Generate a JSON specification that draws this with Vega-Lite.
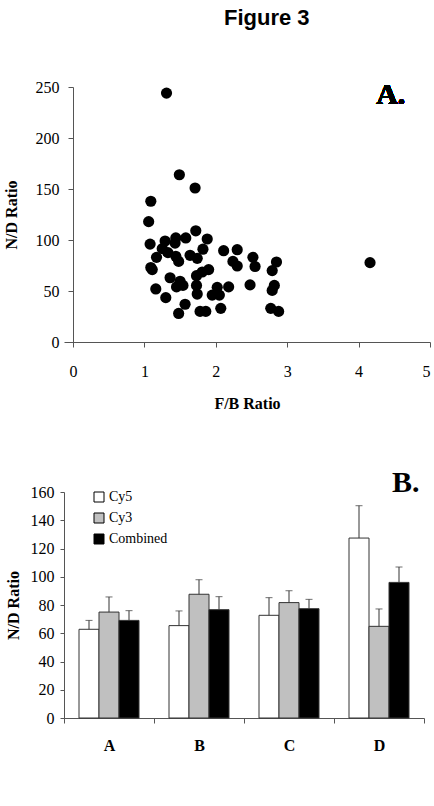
{
  "$schema": "https://vega.github.io/schema/vega-lite/v6.json",
  "padding": {"left": 3, "top": 7, "right": 0, "bottom": 0},
  "title": {"text": "Figure 3", "font": "Liberation Sans", "fontSize": 22, "fontWeight": "bold", "anchor": "middle", "dx": 50, "offset": 49, "color": "black"},
  "config": {
    "view": {"stroke": null},
    "axis": {"grid": false, "domainColor": "#555", "tickColor": "#555", "labelFont": "Liberation Serif", "labelFontSize": 16, "labelColor": "black", "titleFont": "Liberation Serif", "titleFontSize": 16, "titleFontWeight": "bold", "titleColor": "black"}
  },
  "spacing": 57,
  "resolve": {"legend": {"fill": "independent"}, "scale": {"x": "independent", "y": "independent", "fill": "independent"}},
  "vconcat": [
    {
      "width": 366,
      "height": 255,
      "data": {"values": [
        {"fb": 1.31, "nd": 244}, {"fb": 1.49, "nd": 164}, {"fb": 1.71, "nd": 151}, {"fb": 1.09, "nd": 138},
        {"fb": 1.06, "nd": 118}, {"fb": 1.72, "nd": 109}, {"fb": 1.08, "nd": 96}, {"fb": 1.29, "nd": 99},
        {"fb": 1.44, "nd": 102}, {"fb": 1.58, "nd": 102}, {"fb": 1.88, "nd": 101}, {"fb": 1.43, "nd": 97},
        {"fb": 1.25, "nd": 91.5}, {"fb": 1.82, "nd": 91}, {"fb": 2.11, "nd": 89.5}, {"fb": 2.30, "nd": 90.5},
        {"fb": 2.52, "nd": 83}, {"fb": 1.17, "nd": 83}, {"fb": 1.33, "nd": 87.6}, {"fb": 1.44, "nd": 84},
        {"fb": 1.48, "nd": 79}, {"fb": 1.64, "nd": 85}, {"fb": 1.74, "nd": 82}, {"fb": 2.24, "nd": 79},
        {"fb": 2.30, "nd": 74.5}, {"fb": 2.55, "nd": 74}, {"fb": 1.09, "nd": 73}, {"fb": 1.11, "nd": 71},
        {"fb": 1.36, "nd": 63}, {"fb": 1.50, "nd": 59.5}, {"fb": 1.45, "nd": 54}, {"fb": 1.54, "nd": 55.5},
        {"fb": 1.73, "nd": 65}, {"fb": 1.81, "nd": 68.6}, {"fb": 1.90, "nd": 71}, {"fb": 1.73, "nd": 55.5},
        {"fb": 1.74, "nd": 47}, {"fb": 2.02, "nd": 53.6}, {"fb": 2.18, "nd": 54}, {"fb": 2.48, "nd": 56},
        {"fb": 1.16, "nd": 52}, {"fb": 1.95, "nd": 46}, {"fb": 2.05, "nd": 46}, {"fb": 1.30, "nd": 43.5},
        {"fb": 1.57, "nd": 37}, {"fb": 1.48, "nd": 28}, {"fb": 1.78, "nd": 30}, {"fb": 1.86, "nd": 30},
        {"fb": 2.07, "nd": 33}, {"fb": 4.16, "nd": 77.8}, {"fb": 2.85, "nd": 78.4}, {"fb": 2.79, "nd": 70},
        {"fb": 2.82, "nd": 55.5}, {"fb": 2.79, "nd": 50.6}, {"fb": 2.77, "nd": 33}, {"fb": 2.88, "nd": 30}
      ]},
      "layer": [
        {
          "mark": {"type": "circle", "size": 125, "color": "black", "opacity": 1},
          "encoding": {
            "x": {"field": "fb", "type": "quantitative", "scale": {"domain": [-0.1257, 5], "nice": false, "zero": false, "padding": 0}, "axis": {"title": "F/B Ratio", "values": [0, 1, 2, 3, 4, 5], "format": "d", "tickSize": 5, "labelPadding": 16, "titlePadding": 16}},
            "y": {"field": "nd", "type": "quantitative", "scale": {"domain": [0, 250], "nice": false, "zero": false, "padding": 0}, "axis": {"title": "N/D Ratio", "values": [0, 50, 100, 150, 200, 250], "offset": -9, "tickSize": 5, "labelPadding": 9, "titlePadding": 16}}
          }
        },
        {
          "mark": {"type": "text", "text": "A.", "font": "Liberation Serif", "fontSize": 30, "fontWeight": "bold", "align": "center", "baseline": "alphabetic", "fill": "black"},
          "encoding": {"x": {"datum": 4.45, "type": "quantitative"}, "y": {"datum": 233, "type": "quantitative"}}
        }
      ]
    },
    {
      "width": 360,
      "height": 226,
      "title": {"text": "B.", "anchor": "end", "font": "Liberation Serif", "fontSize": 30, "fontWeight": "bold", "color": "black", "offset": 0, "dx": -5, "dy": 14},
      "data": {"values": [
        {"group": "A", "series": "Cy5", "value": 62.8, "upper": 69.1},
        {"group": "A", "series": "Cy3", "value": 75.0, "upper": 85.7},
        {"group": "A", "series": "Combined", "value": 69.1, "upper": 76.0},
        {"group": "B", "series": "Cy5", "value": 65.4, "upper": 75.8},
        {"group": "B", "series": "Cy3", "value": 87.6, "upper": 97.9},
        {"group": "B", "series": "Combined", "value": 76.7, "upper": 85.9},
        {"group": "C", "series": "Cy5", "value": 72.7, "upper": 85.2},
        {"group": "C", "series": "Cy3", "value": 81.7, "upper": 90.1},
        {"group": "C", "series": "Combined", "value": 77.4, "upper": 84.0},
        {"group": "D", "series": "Cy5", "value": 127.4, "upper": 150.3},
        {"group": "D", "series": "Cy3", "value": 64.9, "upper": 77.2},
        {"group": "D", "series": "Combined", "value": 96.0, "upper": 106.9}
      ]},
      "encoding": {
        "x": {"field": "group", "type": "nominal", "scale": {"paddingInner": 0, "paddingOuter": 0}, "axis": {"title": null, "labelAngle": 0, "tickBand": "extent", "labelFontWeight": "bold", "labelPadding": 14, "tickSize": 5}},
        "xOffset": {"field": "series", "type": "nominal", "sort": ["Cy5", "Cy3", "Combined"], "scale": {"paddingInner": 0, "paddingOuter": 0.75}}
      },
      "layer": [
        {
          "mark": {"type": "bar", "stroke": "#333", "strokeWidth": 1},
          "encoding": {
            "y": {"field": "value", "type": "quantitative", "scale": {"domain": [0, 160], "nice": false}, "axis": {"title": "N/D Ratio", "values": [0, 20, 40, 60, 80, 100, 120, 140, 160], "tickSize": 4, "labelPadding": 6, "titlePadding": 9}},
            "fill": {"field": "series", "type": "nominal", "scale": {"domain": ["Cy5", "Cy3", "Combined"], "range": ["white", "#c0c0c0", "black"]},
              "legend": {"title": null, "orient": "none", "legendX": 28, "legendY": -2, "symbolType": "square", "symbolSize": 100, "symbolStrokeColor": "black", "symbolStrokeWidth": 1, "labelFont": "Liberation Serif", "labelFontSize": 14, "labelColor": "black", "rowPadding": 7, "labelOffset": 3}}
          }
        },
        {
          "mark": {"type": "rule", "color": "#333", "strokeWidth": 1},
          "encoding": {"y": {"field": "value", "type": "quantitative", "axis": {"title": "N/D Ratio", "values": [0, 20, 40, 60, 80, 100, 120, 140, 160], "tickSize": 4, "labelPadding": 6, "titlePadding": 9}}, "y2": {"field": "upper"}}
        },
        {
          "mark": {"type": "tick", "orient": "horizontal", "size": 7, "thickness": 1, "color": "#333"},
          "encoding": {"y": {"field": "upper", "type": "quantitative", "axis": {"title": "N/D Ratio", "values": [0, 20, 40, 60, 80, 100, 120, 140, 160], "tickSize": 4, "labelPadding": 6, "titlePadding": 9}}}
        }
      ]
    }
  ]
}
